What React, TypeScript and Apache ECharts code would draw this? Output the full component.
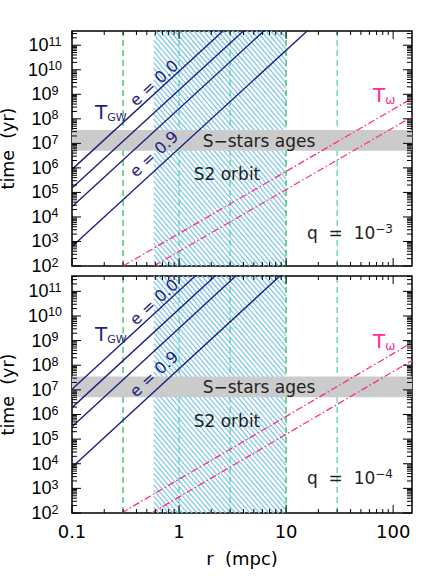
import React, { useEffect, useRef } from "react";
import * as echarts from "echarts";

// axis ranges
const rRange = [0.1, 150];
const tRangeTop = [1e2, 3.8e11];
const tRangeBottom = [1e2, 4.2e11];

// decades carrying tick labels
const rTickExps = [-1, 0, 1, 2];
const tTickExps = [2, 3, 4, 5, 6, 7, 8, 9, 10, 11];

// vertical reference radii (mpc)
const refRadii = [0.3, 1, 3, 10, 30];
const refColors = ["#2fbf5c", "#52d6a2", "#52d6a2", "#2fbf5c", "#52d6a2"];

// grey band and hatched region
const sStarsAges = [5e6, 3.5e7];
const s2Orbit = [0.58, 10];

// T_GW curves for e = 0.0, 0.5, 0.7, 0.9 : [r (mpc), t (yr)]
const tgwTop = [
  [[0.1, 8.7e5], [100, 8.7e17]],
  [[0.1, 1.5e5], [100, 1.5e17]],
  [[0.1, 2.6e4], [100, 2.6e16]],
  [[0.1, 6.2e2], [100, 6.2e14]],
];
const tgwBottom = [
  [[0.1, 1.05e7], [100, 1.05e19]],
  [[0.1, 1.9e6], [100, 1.9e18]],
  [[0.1, 3.2e5], [100, 3.2e17]],
  [[0.1, 7.2e3], [100, 7.2e15]],
];

// T_omega curves
const tOmegaTop = [
  [[0.3, 1e2], [150, 6.8e8]],
  [[0.58, 1e2], [150, 1.2e8]],
];
const tOmegaBottom = [
  [[0.29, 1e2], [150, 8.3e8]],
  [[0.555, 1e2], [150, 1.55e8]],
];

const NAVY = "#1f1f82";
const PINK = "#ff2a92";
const LIB = "'Liberation Sans', Arial, sans-serif";
const DJV = "'DejaVu Sans', sans-serif";

const panels = [
  {
    top: 31, height: 235, tRange: tRangeTop, tgw: tgwTop, tOmega: tOmegaTop, qExp: "−3",
    txt: { tgw: [95, 112], e0: [154, 83], e9: [154, 154], ages: [259, 140.5], s2: [227, 174], tom: [373, 95], q: [307, 233] },
  },
  {
    top: 276, height: 237, tRange: tRangeBottom, tgw: tgwBottom, tOmega: tOmegaBottom, qExp: "−4",
    txt: { tgw: [95, 334], e0: [154, 302], e9: [154, 374], ages: [259, 386.5], s2: [227, 421], tom: [373, 341], q: [307, 478] },
  },
];

const isDecade = (v: number) => {
  const e = Math.log10(v);
  return Math.abs(e - Math.round(e)) < 1e-6;
};

const App: React.FC = () => {
  const chartRef = useRef<HTMLDivElement>(null);

  useEffect(() => {
    if (!chartRef.current) return;
    const chart = echarts.init(chartRef.current, undefined, { renderer: "svg" });

    const grids: any[] = [];
    const xAxes: any[] = [];
    const yAxes: any[] = [];
    const series: any[] = [];
    const graphic: any[] = [];

    panels.forEach((p, i) => {
      const tRange = p.tRange;
      const tMid = 1e5;
      grids.push({
        left: 72, width: 340, top: p.top, height: p.height,
        show: true, borderColor: "#000", borderWidth: 1.5, backgroundColor: "transparent",
        outerBoundsMode: "none",
      });
      xAxes.push({
        type: "log", logBase: 10, gridIndex: i, min: rRange[0], max: rRange[1],
        axisLine: { show: false }, axisTick: { show: false }, splitLine: { show: false },
        axisLabel: {
          show: i === 1, margin: 9, color: "#000", fontSize: 18, fontFamily: DJV,
          formatter: (v: number) => {
            if (!isDecade(v)) return "";
            const e = Math.round(Math.log10(v));
            return e < 0 ? v.toFixed(-e) : String(Math.round(v));
          },
        },
        name: i === 1 ? "r  (mpc)" : "",
        nameLocation: "middle", nameGap: 36,
        nameTextStyle: { color: "#000", fontSize: 18, fontFamily: DJV },
      });
      yAxes.push({
        type: "log", logBase: 10, gridIndex: i, min: tRange[0], max: tRange[1],
        axisLine: { show: false }, axisTick: { show: false }, splitLine: { show: false },
        axisLabel: {
          margin: 27, align: "center",
          formatter: (v: number) => {
            if (!isDecade(v)) return "";
            const e = Math.round(Math.log10(v));
            return tTickExps.includes(e) ? `{b|10}{s|${e}}` : "";
          },
          rich: {
            b: { fontSize: 18, fontFamily: LIB, color: "#000", lineHeight: 20 },
            s: { fontSize: 12.5, fontFamily: LIB, color: "#000", lineHeight: 12, verticalAlign: "top" },
          },
        },
        name: "time  (yr)", nameLocation: "middle", nameGap: 44,
        nameTextStyle: { color: "#000", fontSize: 17.5, fontFamily: DJV },
      });

      // hatched S2 orbit region
      series.push({
        type: "custom", xAxisIndex: i, yAxisIndex: i, z: 1, silent: true,
        data: [[1, tMid]],
        renderItem: (params: any, api: any) => {
          const cs = params.coordSys;
          const x0 = api.coord([s2Orbit[0], tMid])[0];
          const x1 = api.coord([s2Orbit[1], tMid])[0];
          const y0 = cs.y;
          const W = x1 - x0;
          const H = cs.height;
          const m = 0.85;
          const step = 4.8;
          const children: any[] = [];
          for (let c = -m * H; c < W; c += step) {
            const ta = Math.max(0, -c / m);
            const tb = Math.min(H, (W - c) / m);
            if (tb <= ta) continue;
            children.push({
              type: "line",
              shape: { x1: x0 + c + m * ta, y1: y0 + ta, x2: x0 + c + m * tb, y2: y0 + tb },
              style: { stroke: "#7cc6ec", lineWidth: 1.2 },
            });
          }
          return { type: "group", children };
        },
      });

      // vertical reference lines
      refRadii.forEach((r, k) => {
        series.push({
          type: "line", xAxisIndex: i, yAxisIndex: i, z: 2, silent: true,
          symbol: "none",
          data: [[r, tRange[0]], [r, tRange[1]]],
          lineStyle: { color: refColors[k], width: 1.3, type: [6, 4] },
        });
      });

      // S-stars ages band
      series.push({
        type: "custom", xAxisIndex: i, yAxisIndex: i, z: 3, silent: true,
        data: [[1, tMid]],
        renderItem: (params: any, api: any) => {
          const a = api.coord([rRange[0], sStarsAges[1]]);
          const b = api.coord([rRange[1], sStarsAges[0]]);
          return {
            type: "rect",
            shape: { x: a[0], y: a[1], width: b[0] - a[0], height: b[1] - a[1] },
            style: { fill: "#cbcbcb" },
          };
        },
      });

      p.tgw.forEach((d) => {
        series.push({
          type: "line", xAxisIndex: i, yAxisIndex: i, z: 4, silent: true,
          symbol: "none", data: d,
          lineStyle: { color: NAVY, width: 1.4 },
        });
      });
      p.tOmega.forEach((d) => {
        series.push({
          type: "line", xAxisIndex: i, yAxisIndex: i, z: 4, silent: true,
          symbol: "none", data: d,
          lineStyle: { color: PINK, width: 1.3, type: [7, 2.5, 1.5, 2.5] },
        });
      });

      // ticks on all four sides
      series.push({
        type: "custom", xAxisIndex: i, yAxisIndex: i, z: 5, silent: true,
        data: [[1, tMid]],
        renderItem: (params: any, api: any) => {
          const cs = params.coordSys;
          const left = cs.x, right = cs.x + cs.width, top = cs.y, bottom = cs.y + cs.height;
          const children: any[] = [];
          const add = (x1: number, y1: number, x2: number, y2: number) =>
            children.push({ type: "line", shape: { x1, y1, x2, y2 }, style: { stroke: "#000", lineWidth: 1 } });
          rTickExps.forEach((e) => {
            for (let m = 1; m <= 9; m++) {
              const r = m * Math.pow(10, e);
              if (r < rRange[0] - 1e-9 || r > rRange[1]) continue;
              const px = api.coord([r, tMid])[0];
              const len = m === 1 ? 8 : 4;
              add(px, bottom, px, bottom - len);
              add(px, top, px, top + len);
            }
          });
          tTickExps.forEach((e) => {
            for (let m = 1; m <= 9; m++) {
              const t = m * Math.pow(10, e);
              if (t < tRange[0] - 1e-9 || t > tRange[1]) continue;
              const py = api.coord([1, t])[1];
              const len = m === 1 ? 9 : 5;
              add(left, py, left + len, py);
              add(right, py, right - len, py);
            }
          });
          return { type: "group", children };
        },
      });

      const tx = p.txt;
      graphic.push(
        {
          type: "text", x: tx.tgw[0], y: tx.tgw[1], z: 10,
          style: {
            text: "{t|T}{s|GW}", align: "left", verticalAlign: "middle",
            rich: {
              t: { fontSize: 20, fontFamily: DJV, fill: NAVY, lineHeight: 22 },
              s: { fontSize: 11, fontFamily: DJV, fill: NAVY, lineHeight: 10, verticalAlign: "bottom" },
            },
          },
        },
        {
          type: "text", x: tx.e0[0], y: tx.e0[1], rotation: 0.743, z: 10,
          style: { text: "e = 0.0", fontSize: 16, fontFamily: DJV, fill: NAVY, align: "center", verticalAlign: "middle" },
        },
        {
          type: "text", x: tx.e9[0], y: tx.e9[1], rotation: 0.743, z: 10,
          style: { text: "e = 0.9", fontSize: 16, fontFamily: DJV, fill: NAVY, align: "center", verticalAlign: "middle" },
        },
        {
          type: "text", x: tx.ages[0], y: tx.ages[1], z: 10,
          style: { text: "S−stars ages", fontSize: 17, fontFamily: DJV, fill: "#222", align: "center", verticalAlign: "middle" },
        },
        {
          type: "text", x: tx.s2[0], y: tx.s2[1], z: 10,
          style: { text: "S2 orbit", fontSize: 17, fontFamily: DJV, fill: "#222", align: "center", verticalAlign: "middle" },
        },
        {
          type: "text", x: tx.tom[0], y: tx.tom[1], z: 10,
          style: {
            text: "{t|T}{s|ω}", align: "left", verticalAlign: "middle",
            rich: {
              t: { fontSize: 20, fontFamily: DJV, fill: PINK, lineHeight: 22 },
              s: { fontSize: 12, fontFamily: DJV, fill: PINK, lineHeight: 10, verticalAlign: "bottom" },
            },
          },
        },
        {
          type: "text", x: tx.q[0], y: tx.q[1], z: 10,
          style: {
            text: `{b|q  =  10}{s|${p.qExp}}`, align: "left", verticalAlign: "middle",
            rich: {
              b: { fontSize: 17, fontFamily: DJV, fill: "#222", lineHeight: 20 },
              s: { fontSize: 12, fontFamily: DJV, fill: "#222", lineHeight: 11, verticalAlign: "top" },
            },
          },
        }
      );
    });

    chart.setOption({
      animation: false,
      backgroundColor: "#fff",
      grid: grids,
      xAxis: xAxes,
      yAxis: yAxes,
      series,
      graphic,
    });

    return () => {
      chart.dispose();
    };
  }, []);

  return (
    <div
      ref={chartRef}
      style={{ position: "fixed", left: 0, top: 0, width: 436, height: 581 }}
    ></div>
  );
};

export default App;
